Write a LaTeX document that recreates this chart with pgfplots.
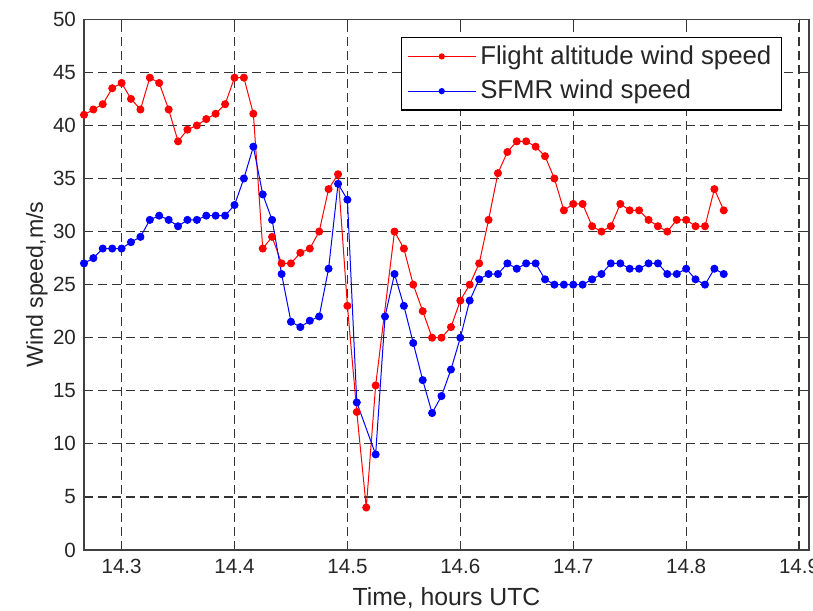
\documentclass[border=0pt]{standalone}
\usepackage{fontspec}
\setmainfont{Liberation Sans}
\usepackage{pgfplots}
\pgfplotsset{compat=1.18}

% Flight-level wind speed (red) and SFMR surface wind speed (blue), 30 s samples
\pgfplotstableread{
t        v
14.2667  41.0
14.2750  41.5
14.2833  42.0
14.2917  43.5
14.3000  44.0
14.3083  42.5
14.3167  41.5
14.3250  44.5
14.3333  44.0
14.3417  41.5
14.3500  38.5
14.3583  39.6
14.3667  40.0
14.3750  40.6
14.3833  41.1
14.3917  42.0
14.4000  44.5
14.4083  44.5
14.4167  41.1
14.4250  28.4
14.4333  29.5
14.4417  27.0
14.4500  27.0
14.4583  28.0
14.4667  28.4
14.4750  30.0
14.4833  34.0
14.4917  35.4
14.5000  23.0
14.5083  13.0
14.5167  4.0
14.5250  15.5
14.5417  30.0
14.5500  28.4
14.5583  25.0
14.5667  22.5
14.5750  20.0
14.5833  20.0
14.5917  21.0
14.6000  23.5
14.6083  25.0
14.6167  27.0
14.6250  31.1
14.6333  35.5
14.6417  37.5
14.6500  38.5
14.6583  38.5
14.6667  38.0
14.6750  37.1
14.6833  35.0
14.6917  32.0
14.7000  32.6
14.7083  32.6
14.7167  30.5
14.7250  30.0
14.7333  30.5
14.7417  32.6
14.7500  32.0
14.7583  32.0
14.7667  31.1
14.7750  30.5
14.7833  30.0
14.7917  31.1
14.8000  31.1
14.8083  30.5
14.8167  30.5
14.8250  34.0
14.8333  32.0
}\flighttable

\pgfplotstableread{
t        v
14.2667  27.0
14.2750  27.5
14.2833  28.4
14.2917  28.4
14.3000  28.4
14.3083  29.0
14.3167  29.5
14.3250  31.1
14.3333  31.5
14.3417  31.1
14.3500  30.5
14.3583  31.1
14.3667  31.1
14.3750  31.5
14.3833  31.5
14.3917  31.5
14.4000  32.5
14.4083  35.0
14.4167  38.0
14.4250  33.5
14.4333  31.1
14.4417  26.0
14.4500  21.5
14.4583  21.0
14.4667  21.6
14.4750  22.0
14.4833  26.5
14.4917  34.5
14.5000  33.0
14.5083  13.9
14.5250  9.0
14.5333  22.0
14.5417  26.0
14.5500  23.0
14.5583  19.5
14.5667  16.0
14.5750  12.9
14.5833  14.5
14.5917  17.0
14.6000  20.0
14.6083  23.5
14.6167  25.5
14.6250  26.0
14.6333  26.0
14.6417  27.0
14.6500  26.5
14.6583  27.0
14.6667  27.0
14.6750  25.5
14.6833  25.0
14.6917  25.0
14.7000  25.0
14.7083  25.0
14.7167  25.5
14.7250  26.0
14.7333  27.0
14.7417  27.0
14.7500  26.5
14.7583  26.5
14.7667  27.0
14.7750  27.0
14.7833  26.0
14.7917  26.0
14.8000  26.5
14.8083  25.5
14.8167  25.0
14.8250  26.5
14.8333  26.0
}\sfmrtable

\begin{document}
\begin{tikzpicture}
\begin{axis}[
  scale only axis,
  width=362.5pt, height=265.35pt,
  xmin=14.2667, xmax=14.9088,
  ymin=0, ymax=50,
  xtick={14.3,14.4,...,14.9},
  ytick={0,5,...,50},
  xticklabel style={/pgf/number format/fixed, /pgf/number format/precision=1},
  /pgf/number format/assume math mode=true,
  tick label style={font=\fontsize{10.3}{12}\selectfont, text=black!85},
  xticklabel style={yshift=-1pt},
  yticklabel style={xshift=-0.5pt},
  tick align=inside,
  major tick length=2.5pt,
  every tick/.style={black!80, line width=0.5pt},
  axis line style={black!75, line width=0.6pt},
  grid=major,
  major grid style={black!80, line width=0.65pt, dash pattern=on 4.3pt off 2.7pt},
  xlabel={Time, hours UTC},
  ylabel={Wind speed,m/s},
  xlabel style={at={(axis description cs:0.5,0)}, anchor=base, yshift=-28pt,
                font=\fontsize{12.4}{14}\selectfont, text=black!85},
  ylabel style={at={(axis description cs:0,0.5)}, anchor=base, yshift=20.5pt,
                font=\fontsize{11.6}{14}\selectfont, text=black!85},
  legend style={at={(1,1)}, anchor=north east, xshift=-13.5pt, yshift=-8.85pt,
                draw=black, line width=0.6pt, fill=white,
                font=\fontsize{12.9}{15}\selectfont, text=black!85,
                inner xsep=3pt, inner ysep=2pt, row sep=2.5pt,
                nodes={inner sep=2pt}},
  legend cell align=left,
  legend image code/.code={
    \draw[mark repeat=2, mark phase=2, mark size=1.3pt]
      plot coordinates {(0pt,0pt) (17pt,0pt) (34pt,0pt)};
  },
  clip=true,
]
\addplot[red, line width=0.5pt, mark=*, mark size=1.75pt,
         mark options={solid, fill=red, draw=red}]
  table[x=t, y=v] {\flighttable};
\addlegendentry{Flight altitude wind speed}
\addplot[blue, line width=0.5pt, mark=*, mark size=1.75pt,
         mark options={solid, fill=blue, draw=blue}]
  table[x=t, y=v] {\sfmrtable};
\addlegendentry{SFMR wind speed}
\end{axis}
\pgfresetboundingbox
\path ([shift={(-42pt,-30.5pt)}]current axis.south west)
  rectangle ([shift={(2pt,9.65pt)}]current axis.north east);
\end{tikzpicture}
\end{document}
